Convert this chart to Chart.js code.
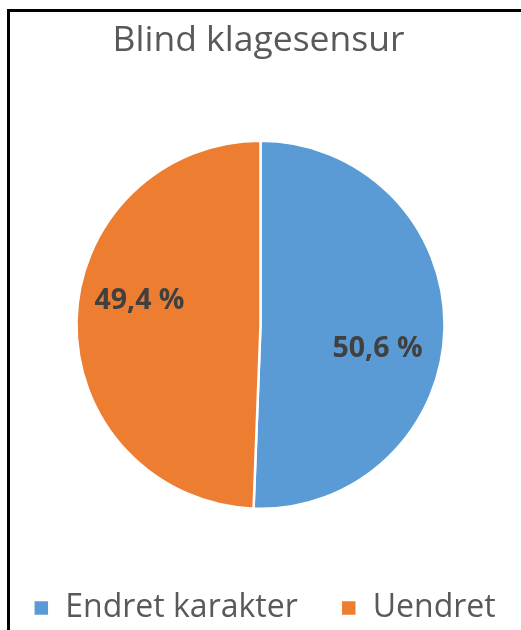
<!DOCTYPE html>
<html>
<head>
<meta charset="utf-8">
<script src="https://cdn.jsdelivr.net/npm/chart.js@4.4.1/dist/chart.umd.min.js"></script>
<style>
  html, body { margin:0; padding:0; background:#fff; overflow:hidden; }
  #frame { position:absolute; left:7px; top:9px; width:620px; height:700px; border:3px solid #000; box-sizing:border-box; }
  #wrap { position:absolute; left:0; top:0; width:521px; height:630px; }
</style>
</head>
<body>
<div id="frame"></div>
<div id="wrap"><canvas id="chart"></canvas></div>
<script>
// data
const categories = ['Endret karakter', 'Uendret'];
const shares = [50.6, 49.4];
const sliceColors = ['#5B9BD5', '#ED7D31'];
const chartTitle = 'Blind klagesensur';

const FONT = '"Open Sans", "Noto Sans", sans-serif';

// percent labels inside the slices, Excel style "50,6 %"
function pctText(v){ return v.toFixed(1).replace('.', ',') + ' %'; }

const sliceLabels = {
  id: 'sliceLabels',
  afterDatasetsDraw(chart){
    const ctx = chart.ctx;
    const meta = chart.getDatasetMeta(0);
    ctx.save();
    ctx.font = 'bold 28.5px ' + FONT;
    ctx.fillStyle = '#404040';
    ctx.textAlign = 'center';
    ctx.textBaseline = 'middle';
    meta.data.forEach((arc, i) => {
      const p = arc.getProps(['x','y','startAngle','endAngle','outerRadius'], true);
      const mid = (p.startAngle + p.endAngle) / 2 + 0.18; // best-fit turn
      const r = p.outerRadius * 0.66;
      ctx.fillText(pctText(shares[i]), p.x - 2 + Math.cos(mid) * r, p.y + Math.sin(mid) * r);
    });
    ctx.restore();
  }
};

// legend sits a bit right of the pie in the original
const legendNudge = {
  id: 'legendNudge',
  afterLayout(chart){ chart.legend.left += 6; chart.legend.right += 6; }
};

const ctx = document.getElementById('chart').getContext('2d');
new Chart(ctx, {
  type: 'pie',
  data: {
    labels: categories,
    datasets: [{ data: shares, backgroundColor: sliceColors, borderColor: '#fff', borderWidth: 2.5 }]
  },
  options: {
    responsive: true,
    maintainAspectRatio: false,
    animation: false,
    radius: 184,
    layout: { padding: { top: 0, right: -27, bottom: -4, left: -31 } },
    plugins: {
      title: { display: true, text: chartTitle, color: '#595959', font: { family: FONT, size: 35.5, weight: 'normal' }, padding: { top: 20, bottom: 38 } },
      legend: {
        position: 'bottom',
        labels: { boxWidth: 16, boxHeight: 16, padding: 43, color: '#595959', font: { family: FONT, size: 32 } }
      },
      tooltip: { enabled: false }
    }
  },
  plugins: [sliceLabels, legendNudge]
});
</script>
</body>
</html>
